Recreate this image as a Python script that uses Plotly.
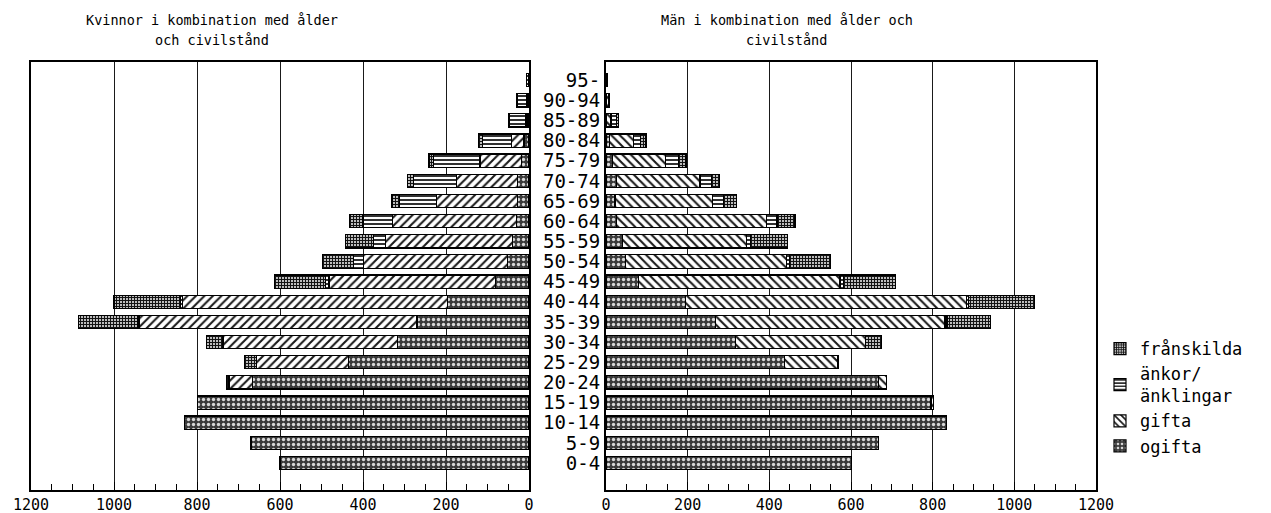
import plotly.graph_objects as go

ages = ["0-4", "5-9", "10-14", "15-19", "20-24", "25-29", "30-34", "35-39",
        "40-44", "45-49", "50-54", "55-59", "60-64", "65-69", "70-74",
        "75-79", "80-84", "85-89", "90-94", "95-"]

# Kvinnor (women)
w_ogifta     = [600, 670, 831, 798, 666, 435, 317, 270, 196, 80, 51, 39, 30, 28, 27, 18, 12, 5, 4, 1]
w_gifta      = [0, 0, 0, 0, 57, 221, 420, 668, 639, 402, 347, 306, 299, 195, 148, 100, 31, 4, 1, 0]
w_ankor      = [0, 0, 0, 0, 0, 0, 2, 4, 5, 8, 24, 29, 71, 90, 103, 113, 70, 38, 22, 5]
w_franskilda = [0, 0, 0, 0, 5, 29, 39, 144, 160, 123, 75, 68, 33, 17, 14, 10, 8, 3, 2, 0]

# Män (men)
m_ogifta     = [601, 668, 833, 796, 667, 437, 317, 269, 194, 79, 48, 40, 26, 22, 26, 16, 8, 2, 2, 1]
m_gifta      = [0, 0, 0, 6, 20, 131, 319, 561, 689, 494, 395, 305, 368, 239, 204, 129, 59, 10, 4, 1]
m_anklingar  = [0, 0, 0, 0, 0, 0, 0, 5, 5, 8, 6, 8, 25, 27, 29, 32, 18, 14, 2, 1]
m_franskilda = [0, 0, 0, 0, 0, 2, 39, 107, 162, 127, 100, 91, 44, 31, 19, 19, 13, 4, 0, 0]

x_ticks = [0, 200, 400, 600, 800, 1000, 1200]

title_left = ["Kvinnor i kombination med ålder", "och civilstånd"]
title_right = ["Män i kombination med ålder och", "civilstånd"]

FONT = "DejaVu Sans Mono"
W, H = 1271, 513

styles = {
    "ogifta": dict(shape=".", bgcolor="#3a3a3a", fgcolor="#d8d8d8", size=5, solidity=0.35),
    "gifta_l": dict(shape="/", bgcolor="white", fgcolor="#1a1a1a", size=6, solidity=0.35),
    "gifta_r": dict(shape="\\", bgcolor="white", fgcolor="#1a1a1a", size=6, solidity=0.35),
    "ankor": dict(shape="-", bgcolor="white", fgcolor="#1a1a1a", size=4, solidity=0.45),
    "fransk": dict(shape="+", bgcolor="#bdbdbd", fgcolor="#111111", size=3, solidity=0.55),
}

fig = go.Figure()

def add(vals, name, st, xa, ya, show):
    fig.add_trace(go.Bar(
        y=ages, x=vals, orientation="h", name=name, xaxis=xa, yaxis=ya,
        showlegend=show,
        marker=dict(color=st["bgcolor"], line=dict(color="black", width=1.2),
                    pattern=dict(shape=st["shape"], bgcolor=st["bgcolor"],
                                 fgcolor=st["fgcolor"], size=st["size"],
                                 solidity=st["solidity"], fillmode="replace")),
        hoverinfo="x+y+name",
    ))

add(w_ogifta, "ogifta", styles["ogifta"], "x", "y", False)
add(w_gifta, "gifta", styles["gifta_l"], "x", "y", False)
add(w_ankor, "änkor/<br>änklingar", styles["ankor"], "x", "y", False)
add(w_franskilda, "frånskilda", styles["fransk"], "x", "y", False)

add(m_ogifta, "ogifta", styles["ogifta"], "x2", "y2", True)
add(m_gifta, "gifta", styles["gifta_r"], "x2", "y2", True)
add(m_anklingar, "änkor/<br>änklingar", styles["ankor"], "x2", "y2", True)
add(m_franskilda, "frånskilda", styles["fransk"], "x2", "y2", True)

top_px, bot_px = 62, 490
ydom = [1 - bot_px / H, 1 - top_px / H]
yrange = [-1.34, 19.9]

xcommon = dict(
    tickmode="array", tickvals=x_ticks, ticktext=[str(v) for v in x_ticks],
    showgrid=True, gridcolor="#1a1a1a", gridwidth=1.2, zeroline=False,
    showline=True, mirror=True, linecolor="black", linewidth=2,
    ticks="inside", ticklen=8, tickcolor="black", tickwidth=1.3,
    minor=dict(dtick=50, tick0=0, ticks="inside", ticklen=6, tickcolor="black",
               tickwidth=1.3, showgrid=False),
    tickfont=dict(family=FONT, size=15, color="black"),
    fixedrange=True,
)
ycommon = dict(
    type="category", categoryorder="array", categoryarray=ages,
    tickmode="array", tickvals=ages, ticktext=ages,
    range=yrange, domain=ydom, showgrid=False, zeroline=False,
    showline=True, mirror=True, linecolor="black", linewidth=2, ticks="",
    fixedrange=True,
)

fig.update_layout(
    width=W, height=H,
    template="none",
    barmode="stack", bargap=0.34,
    paper_bgcolor="white", plot_bgcolor="white",
    margin=dict(l=0, r=0, t=0, b=0),
    xaxis=dict(domain=[31 / W, 529 / W], range=[1200, 0], anchor="y", **xcommon),
    yaxis=dict(anchor="x", showticklabels=False, **ycommon),
    xaxis2=dict(domain=[606 / W, 1096 / W], range=[0, 1200], anchor="y2", **xcommon),
    yaxis2=dict(anchor="x2", showticklabels=True, side="left",
                tickfont=dict(family=FONT, size=19, color="black"), **ycommon),
    legend=dict(x=1100 / W, y=1 - 331 / H, xanchor="left", yanchor="top",
                traceorder="reversed", font=dict(family=FONT, size=17, color="black"),
                bgcolor="rgba(0,0,0,0)", tracegroupgap=0),
    font=dict(family=FONT, color="black"),
)

def title(lines, cx):
    for i, t in enumerate(lines):
        fig.add_annotation(text=t, xref="paper", yref="paper", x=cx / W,
                           y=1 - (20 + 20 * i) / H, xanchor="center", yanchor="middle",
                           showarrow=False, font=dict(family=FONT, size=13.5, color="black"))

title(title_left, 212)
title(title_right, 787)

fig.write_html("out.html", config={"displayModeBar": False},
               post_script="document.body.style.margin='0';document.body.style.overflow='hidden';")
